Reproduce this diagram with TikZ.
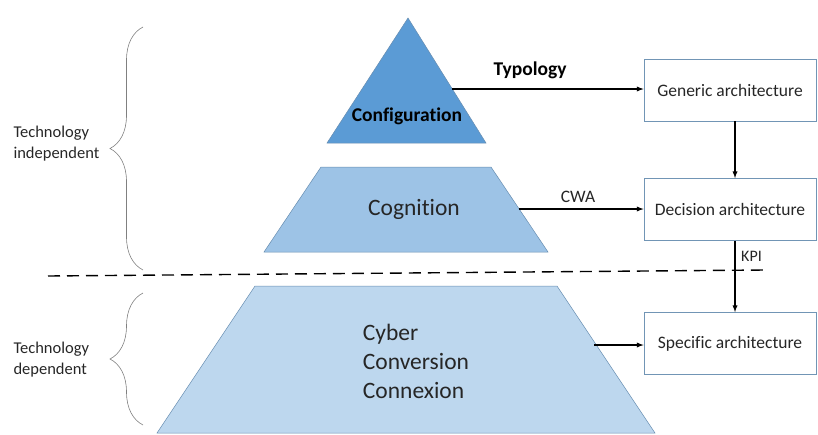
\documentclass[tikz,border=0pt]{standalone}
\usepackage{fontspec}
\setmainfont{Carlito}[Ligatures={NoCommon,NoRequired,NoContextual}]
\usetikzlibrary{decorations.pathreplacing}
\definecolor{cfgblue}{HTML}{5B9BD5}
\definecolor{cogblue}{HTML}{9DC3E6}
\definecolor{phyblue}{HTML}{BDD7EE}
\definecolor{edgeblue}{HTML}{41719C}
\definecolor{txtgray}{HTML}{262626}

\begin{document}
\begin{tikzpicture}[x=1pt,y=-1pt,>=latex,
		archbox/.style={draw=edgeblue!75,line width=0.8pt,minimum width=172pt,minimum height=62pt,inner sep=0pt,text=txtgray,font=\fontsize{17.5}{20}\selectfont},
		flow/.style={->,line width=1.3pt},
		brc/.style={decorate,decoration={brace,amplitude=33pt},draw=gray,line width=0.6pt},
		side/.style={align=left,anchor=west,text=txtgray,font=\fontsize{16.5}{21}\selectfont}]
		\useasboundingbox (0,0) rectangle (818,434);
		% the three layers
		\filldraw[fill=cfgblue,draw=edgeblue!80,line width=0.5pt] (408,18) -- (486,143) -- (327,143) -- cycle;
		\filldraw[fill=cogblue,draw=edgeblue!80,line width=0.5pt] (321,167) -- (491,167) -- (548,252) -- (264,252) -- cycle;
		\filldraw[fill=phyblue,draw=edgeblue!80,line width=0.5pt] (255,286) -- (557,286) -- (655,433) -- (157,433) -- cycle;
		\node[font=\bfseries\fontsize{19.5}{22}\selectfont] (cfg) at (407,116) {Configuration};
		\node[text=txtgray,font=\fontsize{23.5}{28}\selectfont] (cog) at (414,209) {Cognition};
		\node[text=txtgray,align=left,font=\fontsize{23.5}{29}\selectfont] (cps) at (416,361) {Cyber\\Conversion\\Connexion};
		\coordinate (typ) at (452,89);
		\coordinate (cwa) at (519,209);
		\coordinate (phy) at (594,345);
		% architectures
		\node[archbox] (generic) at (730,90) {Generic architecture};
		\node[archbox] (decision) at (730,209.5) {Decision architecture};
		\node[archbox] (specific) at (730,343.5) {Specific architecture};
		\draw[flow] (typ) -- (typ -| generic.west);
		\node[font=\bfseries\fontsize{19.5}{22}\selectfont] (typology) at (530,70) {Typology};
		\draw[flow] (cwa) -- (cwa -| decision.west);
		\node[text=txtgray,font=\fontsize{17.5}{20}\selectfont] (cwalbl) at (578,197) {CWA};
		\draw[flow] (phy) -- (phy -| specific.west);
		\draw[flow] ([xshift=5pt]generic.south) -- ([xshift=5pt]decision.north);
		\draw[flow] ([xshift=5pt]decision.south) -- ([xshift=5pt]specific.north);
		\node[anchor=west,text=txtgray,inner sep=0pt,font=\fontsize{16}{18}\selectfont] (kpi) at (741,256) {KPI};
		% split line and braces
		\coordinate (cutl) at (48,276);
		\coordinate (cutr) at (765,270);
		\draw[line width=1.4pt,dash pattern=on 12pt off 7pt] (cutl) -- (cutr);
		\draw[brc] (143,270) -- (143,27);
		\draw[brc] (143,425) -- (143,293);
		\node[side] (indep) at (10,144) {Technology\\independent};
		\node[side] (dep) at (10,360) {Technology\\dependent};
	\end{tikzpicture}
\end{document}
